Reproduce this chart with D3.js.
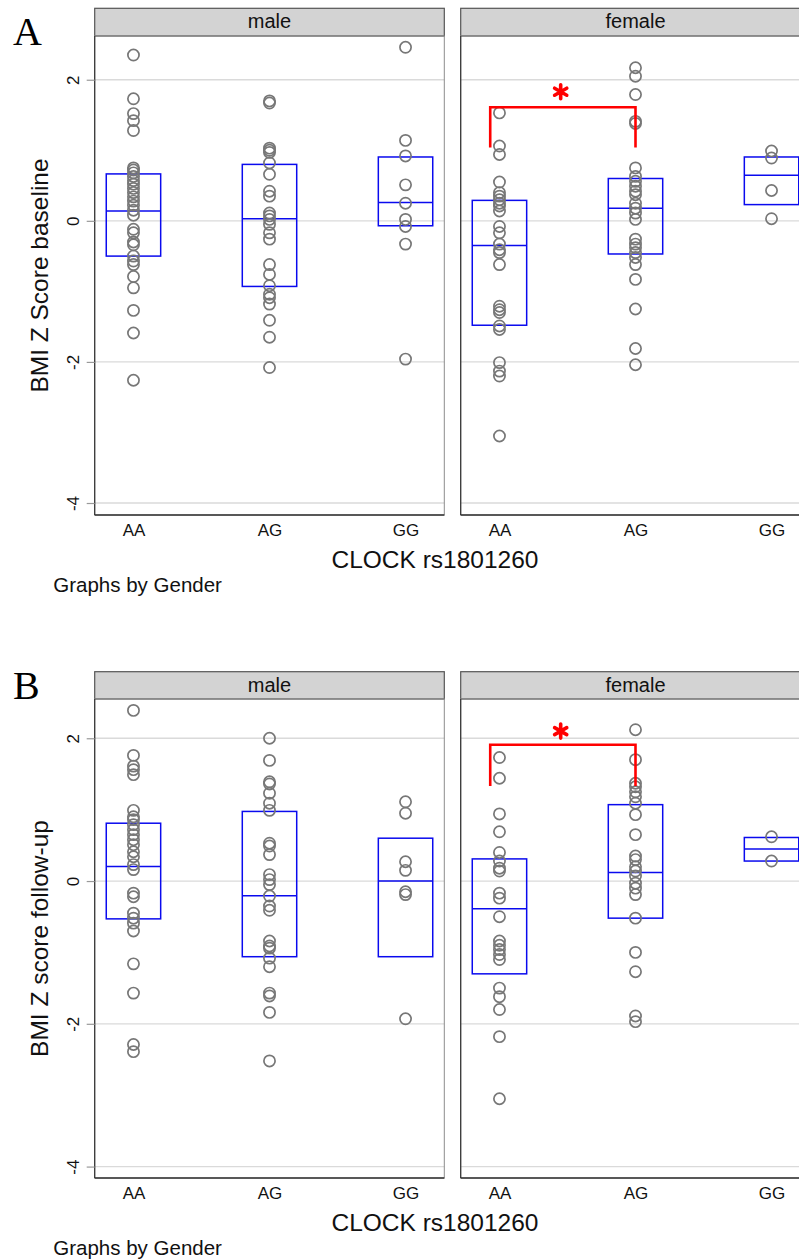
<!DOCTYPE html>
<html>
<head>
<meta charset="utf-8">
<script src="https://cdn.jsdelivr.net/npm/d3@7"></script>
<style>
  body { margin: 0; background: #fff; }
  text { font-family: "Liberation Sans", Arial, sans-serif; }
</style>
</head>
<body>
<script>
(function() {

// categories
var genotypes = ["AA", "AG", "GG"];
var genders = ["male", "female"];
var yTicks = [2, 0, -2, -4];

// panel A - BMI Z score at baseline (one array per gender / genotype)
var baseMaleAA = [2.35, 1.73, 1.52, 1.42, 1.28, 0.75, 0.72, 0.68, 0.63, 0.57, 0.52, 0.46, 0.40, 0.34, 0.28, 0.22, 0.15, 0.08,
    -0.12, -0.17, -0.30, -0.34, -0.50, -0.57, -0.62, -0.79, -0.95, -1.27, -1.59, -2.26];
var baseMaleAG = [1.70, 1.67, 1.03, 1.00, 0.97, 0.82, 0.66, 0.42, 0.35, 0.11, 0.07, 0.02, -0.05, -0.17, -0.26,
    -0.62, -0.76, -0.92, -1.04, -1.09, -1.18, -1.41, -1.65, -2.08];
var baseMaleGG = [2.46, 1.14, 0.92, 0.51, 0.25, 0.02, -0.08, -0.33, -1.96];
var baseFemaleAA = [1.53, 1.06, 0.94, 0.55, 0.40, 0.35, 0.30, 0.25, 0.21, 0.14, -0.08, -0.17, -0.33, -0.41, -0.45,
    -0.62, -1.21, -1.26, -1.30, -1.49, -1.54, -2.01, -2.13, -2.20, -3.05];
var baseFemaleAG = [2.17, 2.05, 1.79, 1.41, 1.38, 0.75, 0.63, 0.56, 0.49, 0.42, 0.37, 0.25, 0.18, 0.11, 0.02,
    -0.26, -0.33, -0.38, -0.45, -0.52, -0.62, -0.83, -1.25, -1.81, -2.04];
var baseFemaleGG = [0.99, 0.89, 0.43, 0.03];

// box stats [q1, median, q3]
var baseMaleBox = [[-0.50, 0.14, 0.665], [-0.93, 0.03, 0.80], [-0.07, 0.26, 0.905]];
var baseFemaleBox = [[-1.48, -0.35, 0.29], [-0.47, 0.18, 0.60], [0.23, 0.645, 0.905]];

// panel B - BMI Z score at follow-up
var followMaleAA = [2.39, 1.76, 1.61, 1.56, 1.49, 0.99, 0.90, 0.86, 0.79, 0.72, 0.65, 0.58, 0.51, 0.41, 0.34, 0.23, 0.16,
    -0.17, -0.22, -0.45, -0.52, -0.59, -0.70, -1.16, -1.57, -2.29, -2.39];
var followMaleAG = [2.00, 1.69, 1.39, 1.36, 1.23, 1.09, 0.99, 0.53, 0.49, 0.37, 0.09, 0.02, -0.05, -0.21, -0.35, -0.41,
    -0.84, -0.91, -0.94, -1.08, -1.20, -1.57, -1.61, -1.84, -2.52];
var followMaleGG = [1.11, 0.95, 0.27, 0.15, -0.15, -0.19, -1.93];
var followFemaleAA = [1.73, 1.44, 0.94, 0.69, 0.40, 0.28, 0.18, 0.14, -0.17, -0.24, -0.50, -0.84, -0.90, -0.96, -1.03,
    -1.10, -1.50, -1.62, -1.80, -2.18, -3.05];
var followFemaleAG = [2.12, 1.70, 1.37, 1.32, 1.25, 1.18, 1.09, 0.93, 0.65, 0.35, 0.30, 0.20, 0.14, 0.07, -0.03, -0.10,
    -0.19, -0.52, -1.00, -1.27, -1.89, -1.97];
var followFemaleGG = [0.62, 0.28];

var followMaleBox = [[-0.53, 0.205, 0.81], [-1.06, -0.205, 0.975], [-1.06, 0.0, 0.60]];
var followFemaleBox = [[-1.30, -0.39, 0.31], [-0.52, 0.12, 1.07], [0.28, 0.45, 0.61]];

// significance brackets (female AA vs AG): [top, foot], star [x in categories, y]
var baseBracket = [1.61, 1.04];
var followBracket = [1.91, 1.33];
var baseStar = [1.45, 1.83];
var followStar = [1.45, 2.10];

var width = 799, height = 1260;
var panelLeft = { male: 94.7, female: 460.7 }, panelW = 349.6;

var svg = d3.select("body").append("svg")
    .attr("width", width)
    .attr("height", height);

var panels = [
    { label: "A", labelY: 45, ytitle: "BMI Z Score baseline", headTop: 8.3, top: 36, bottom: 515, domain: [-4.17, 2.62],
      points: { male: [baseMaleAA, baseMaleAG, baseMaleGG], female: [baseFemaleAA, baseFemaleAG, baseFemaleGG] },
      boxes: { male: baseMaleBox, female: baseFemaleBox }, bracket: baseBracket, star: baseStar },
    { label: "B", labelY: 699.3, ytitle: "BMI Z score follow-up", headTop: 671.7, top: 699, bottom: 1178, domain: [-4.16, 2.55],
      points: { male: [followMaleAA, followMaleAG, followMaleGG], female: [followFemaleAA, followFemaleAG, followFemaleGG] },
      boxes: { male: followMaleBox, female: followFemaleBox }, bracket: followBracket, star: followStar }
];

panels.forEach(function(p) {
    var y = d3.scaleLinear().domain(p.domain).range([p.bottom, p.top]);
    var g = svg.append("g");

    genders.forEach(function(gender) {
        var x0 = panelLeft[gender];
        var x = d3.scalePoint().domain(genotypes).range([x0, x0 + panelW]).padding(0.285);
        var hw = x.step() * 0.2;

        // header strip
        g.append("rect")
            .attr("x", x0).attr("y", p.headTop)
            .attr("width", panelW).attr("height", p.top - p.headTop)
            .attr("fill", "#d3d3d3").attr("stroke", "#555").attr("stroke-width", 1.2);
        g.append("text")
            .attr("x", x0 + panelW / 2).attr("y", p.headTop + 20)
            .attr("text-anchor", "middle").attr("font-size", "20px").attr("fill", "#111")
            .text(gender);

        // gridlines
        g.selectAll(null).data(yTicks).enter().append("line")
            .attr("x1", x0).attr("x2", x0 + panelW)
            .attr("y1", function(d) { return y(d); }).attr("y2", function(d) { return y(d); })
            .attr("stroke", "#dadada").attr("stroke-width", 1.3);

        // plot region outline + axis lines
        g.append("rect")
            .attr("x", x0).attr("y", p.top).attr("width", panelW).attr("height", p.bottom - p.top)
            .attr("fill", "none").attr("stroke", "#8c8c8c").attr("stroke-width", 1);
        g.append("line").attr("x1", x0).attr("x2", x0).attr("y1", p.top).attr("y2", p.bottom)
            .attr("stroke", "#333").attr("stroke-width", 1.2);
        g.append("line").attr("x1", x0).attr("x2", x0 + panelW).attr("y1", p.bottom).attr("y2", p.bottom)
            .attr("stroke", "#333").attr("stroke-width", 1.4);

        // y axis only on the left panel
        if (gender == "male") {
            var ya = g.append("g").attr("transform", "translate(" + x0 + ",0)")
                .call(d3.axisLeft(y).tickValues(yTicks).tickSize(8).tickFormat(function(d) { return String(d); }));
            ya.select(".domain").remove();
            ya.selectAll(".tick line").attr("stroke", "#999").attr("stroke-width", 1.2);
            ya.selectAll(".tick text")
                .attr("x", 0).attr("dy", 0)
                .attr("text-anchor", "middle")
                .attr("transform", "translate(-16.2,0) rotate(-90)")
                .attr("font-size", "17px").attr("fill", "#111")
                .style("font-family", "'Liberation Sans', Arial, sans-serif");
        }

        // x axis labels
        var xa = g.append("g").attr("transform", "translate(0," + p.bottom + ")")
            .call(d3.axisBottom(x).tickSize(0).tickPadding(9));
        xa.select(".domain").remove();
        xa.selectAll(".tick text").attr("font-size", "17px").attr("fill", "#111")
            .style("font-family", "'Liberation Sans', Arial, sans-serif");

        // boxes
        var boxes = p.boxes[gender];
        var bg = g.selectAll(null).data(genotypes).enter().append("g");
        bg.append("rect")
            .attr("x", function(d) { return x(d) - hw; })
            .attr("width", hw * 2)
            .attr("y", function(d, i) { return y(boxes[i][2]); })
            .attr("height", function(d, i) { return y(boxes[i][0]) - y(boxes[i][2]); })
            .attr("fill", "none").attr("stroke", "#0a0aee").attr("stroke-width", 1.5);
        bg.append("line")
            .attr("x1", function(d) { return x(d) - hw; })
            .attr("x2", function(d) { return x(d) + hw; })
            .attr("y1", function(d, i) { return y(boxes[i][1]); })
            .attr("y2", function(d, i) { return y(boxes[i][1]); })
            .attr("stroke", "#0a0aee").attr("stroke-width", 1.5);

        // points
        var pts = [];
        genotypes.forEach(function(gt, i) {
            p.points[gender][i].forEach(function(v) { pts.push({ gt: gt, v: v }); });
        });
        g.selectAll(null).data(pts).enter().append("circle")
            .attr("cx", function(d) { return x(d.gt); })
            .attr("cy", function(d) { return y(d.v); })
            .attr("r", 5.6)
            .attr("fill", "none").attr("stroke", "#777").attr("stroke-width", 1.7);

        // significance bracket on female panel
        if (gender == "female") {
            var xl = x("AA") - x.step() * 0.068, xr = x("AG");
            var line = d3.line();
            g.append("path")
                .attr("d", line([[xl, y(p.bracket[1])], [xl, y(p.bracket[0])], [xr, y(p.bracket[0])], [xr, y(p.bracket[1])]]))
                .attr("fill", "none").attr("stroke", "#ff0000").attr("stroke-width", 2.6);
            g.append("path")
                .attr("d", d3.symbol(d3.symbolAsterisk, 138)())
                .attr("transform", "translate(" + (x("AA") + x.step() * (p.star[0] - 1)) + "," + y(p.star[1]) + ")")
                .attr("fill", "none").attr("stroke", "#ff0000").attr("stroke-width", 3.6)
                .attr("stroke-linecap", "round");
        }
    });

    // titles
    var cy = (p.top + p.bottom) / 2;
    g.append("text")
        .attr("transform", "translate(47.5," + cy + ") rotate(-90)")
        .attr("text-anchor", "middle").attr("font-size", "24.5px").attr("fill", "#111")
        .text(p.ytitle);
    g.append("text")
        .attr("x", 435).attr("y", p.bottom + 53)
        .attr("text-anchor", "middle").attr("font-size", "24.5px").attr("fill", "#111")
        .text("CLOCK rs1801260");
    g.append("text")
        .attr("x", 53.3).attr("y", p.bottom + 77)
        .attr("font-size", "20.5px").attr("fill", "#111")
        .text("Graphs by Gender");
    g.append("text")
        .attr("x", 13).attr("y", p.labelY)
        .attr("font-size", "40px").attr("fill", "#000")
        .style("font-family", "'Liberation Serif', 'Times New Roman', serif")
        .text(p.label);
});

})();
</script>
</body>
</html>
